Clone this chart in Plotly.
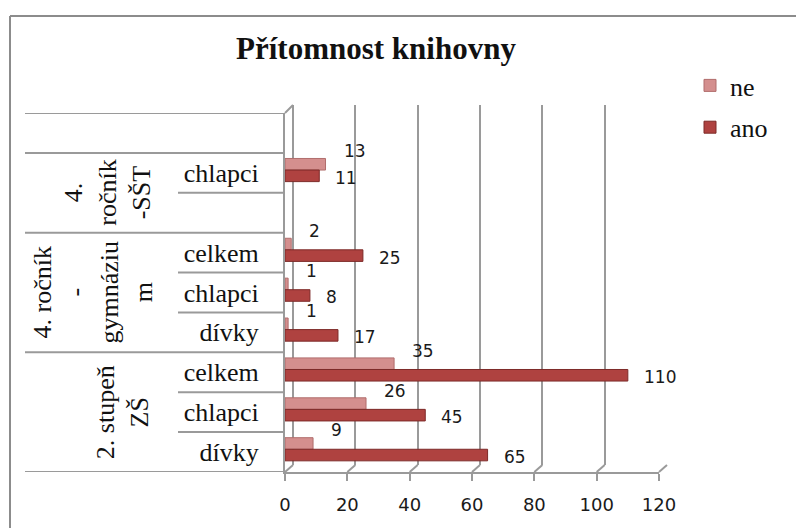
import plotly.graph_objects as go

# ---------------------------------------------------------------------------
# Data (rows listed from bottom to top, as drawn)
# ---------------------------------------------------------------------------
row_labels = ["dívky", "chlapci", "celkem",
              "dívky", "chlapci", "celkem",
              "", "chlapci",
              ""]
ano = [65, 45, 110, 17, 8, 25, None, 11, None]
ne = [9, 26, 35, 1, 1, 2, None, 13, None]

group_names = ["2. stupeň<br>ZŠ",
               "4. ročník<br>-<br>gymnáziu<br>m",
               "4.<br>ročník<br>-SŠT",
               ""]
group_sizes = [3, 3, 2, 1]

x_ticks = [0, 20, 40, 60, 80, 100, 120]

# ---------------------------------------------------------------------------
# Geometry helpers (screen pixels -> paper); page body adds an 8px margin
# ---------------------------------------------------------------------------
OFF = 8
W, H = 804, 528
L, R, T, B = 285 - OFF, 140, 105 - OFF, 64
PW = W - L - R
PH = H - T - B


def pxx(p):
    return (p - OFF - L) / PW


def pxy(p):
    return (H - B - (p - OFF)) / PH


GRAY = "#9a9a9a"
ANO_COLOR = "#AF4240"
NE_COLOR = "#D48F8E"
SERIF = "Liberation Serif"
SANS = "DejaVu Sans"

front_x = [0, 374 / PW]
front_y = [0, 359 / PH]
back_x = [8 / PW, 382 / PW]
back_y = [7 / PH, 1]

rows = list(range(len(row_labels)))

fig = go.Figure()

# back wall (drawn first so it stays behind the bars)
fig.add_trace(go.Scatter(x=[], y=[], xaxis="x", yaxis="y",
                         showlegend=False, hoverinfo="skip"))

fig.add_trace(go.Bar(
    name="ne", y=rows, x=ne, orientation="h",
    xaxis="x2", yaxis="y2", legendgroup="ne",
    width=0.29, offset=0.07,
    marker=dict(color=NE_COLOR, line=dict(color="#b06d6c", width=1)),
))
fig.add_trace(go.Bar(
    name="ano", y=rows, x=ano, orientation="h",
    xaxis="x2", yaxis="y2", legendgroup="ano",
    width=0.29, offset=-0.22,
    marker=dict(color=ANO_COLOR, line=dict(color="#7d2a28", width=1)),
))

# data labels
annotations = []
for r, v in zip(rows, ano):
    if v is None:
        continue
    annotations.append(dict(
        x=v, y=r - 0.075, xref="x2", yref="y2", text=str(v),
        showarrow=False, xanchor="left", yanchor="middle",
        xshift=14, yshift=-2, font=dict(family=SANS, size=17, color="#1a1a1a")))
for r, v in zip(rows, ne):
    if v is None:
        continue
    annotations.append(dict(
        x=v, y=r + 0.215, xref="x2", yref="y2", text=str(v),
        showarrow=False, xanchor="left", yanchor="middle",
        xshift=16, yshift=13, font=dict(family=SANS, size=17, color="#1a1a1a")))

# group labels (rotated) and table lines
group_label_x = [122, 92, 108, None]
shapes = []
start = 0
for name, size, gx in zip(group_names, group_sizes, group_label_x):
    lo, hi = start - 0.5, start + size - 0.5
    shapes.append(dict(type="line", xref="paper", yref="y2",
                       x0=pxx(25), x1=0, y0=lo, y1=lo,
                       line=dict(color=GRAY, width=2)))
    for k in range(1, size):
        yk = start + k - 0.5
        shapes.append(dict(type="line", xref="paper", yref="y2",
                           x0=pxx(178), x1=0, y0=yk, y1=yk,
                           line=dict(color=GRAY, width=2)))
    if name:
        annotations.append(dict(
            x=pxx(gx), y=(lo + hi) / 2, xref="paper", yref="y2",
            text=name, showarrow=False, textangle=-90,
            xanchor="center", yanchor="middle",
            font=dict(family=SERIF, size=26, color="#111111")))
    start += size
shapes.append(dict(type="line", xref="paper", yref="y2",
                   x0=pxx(25), x1=0, y0=start - 0.5, y1=start - 0.5,
                   line=dict(color=GRAY, width=2)))

# 3D floor / wall joins
for v in x_ticks:
    fx = front_x[0] + v / x_ticks[-1] * (front_x[1] - front_x[0])
    bx = back_x[0] + v / x_ticks[-1] * (back_x[1] - back_x[0])
    shapes.append(dict(type="line", xref="paper", yref="paper",
                       x0=fx, x1=bx, y0=front_y[0], y1=back_y[0],
                       line=dict(color=GRAY, width=2)))
shapes.append(dict(type="line", xref="paper", yref="paper",
                   x0=front_x[0], x1=back_x[0], y0=front_y[1], y1=back_y[1],
                   line=dict(color=GRAY, width=2)))

# outer chart frame
shapes.append(dict(type="line", xref="paper", yref="paper",
                   x0=pxx(10), x1=pxx(W + 20), y0=pxy(16), y1=pxy(16),
                   line=dict(color="#8c8c8c", width=2)))
shapes.append(dict(type="line", xref="paper", yref="paper",
                   x0=pxx(10), x1=pxx(10), y0=pxy(16), y1=pxy(H + 20),
                   line=dict(color="#8c8c8c", width=2)))

fig.update_layout(
    width=W, height=H,
    margin=dict(l=L, r=R, t=T, b=B, pad=0),
    paper_bgcolor="white",
    plot_bgcolor="rgba(0,0,0,0)",
    title=dict(text="<b>Přítomnost knihovny</b>", xref="container",
               x=(376 - OFF) / W, xanchor="center",
               y=1 - (48 - OFF) / H, yanchor="middle",
               font=dict(family=SERIF, size=31, color="#111111")),
    xaxis=dict(domain=back_x, anchor="y", range=[0, 120], tickvals=x_ticks,
               showticklabels=False, ticks="", showgrid=True, gridcolor=GRAY,
               gridwidth=2, zeroline=True, zerolinecolor=GRAY,
               zerolinewidth=2, showline=False),
    yaxis=dict(domain=back_y, anchor="x", range=[0, 1], visible=False),
    xaxis2=dict(domain=front_x, anchor="y2", range=[0, 120], tickvals=x_ticks,
                showgrid=False, zeroline=False, showline=True,
                linecolor=GRAY, linewidth=2, ticks="outside", ticklen=7,
                tickwidth=2, tickcolor=GRAY, ticklabelstandoff=8,
                tickfont=dict(family=SANS, size=18, color="#1a1a1a")),
    yaxis2=dict(domain=front_y, anchor="x2", range=[-0.5, len(rows) - 0.5],
                tickvals=rows, ticktext=row_labels, ticks="",
                showgrid=False, zeroline=False, showline=True,
                linecolor=GRAY, linewidth=2, ticklabelstandoff=19,
                tickfont=dict(family=SERIF, size=26, color="#111111")),
    showlegend=True,
    legend=dict(x=pxx(690), y=pxy(62), xanchor="left", yanchor="top",
                traceorder="grouped", tracegroupgap=5,
                bgcolor="rgba(0,0,0,0)",
                font=dict(family=SERIF, size=26, color="#111111"),
                itemwidth=30),
    annotations=annotations,
    shapes=shapes,
)

fig.write_html("out.html")
